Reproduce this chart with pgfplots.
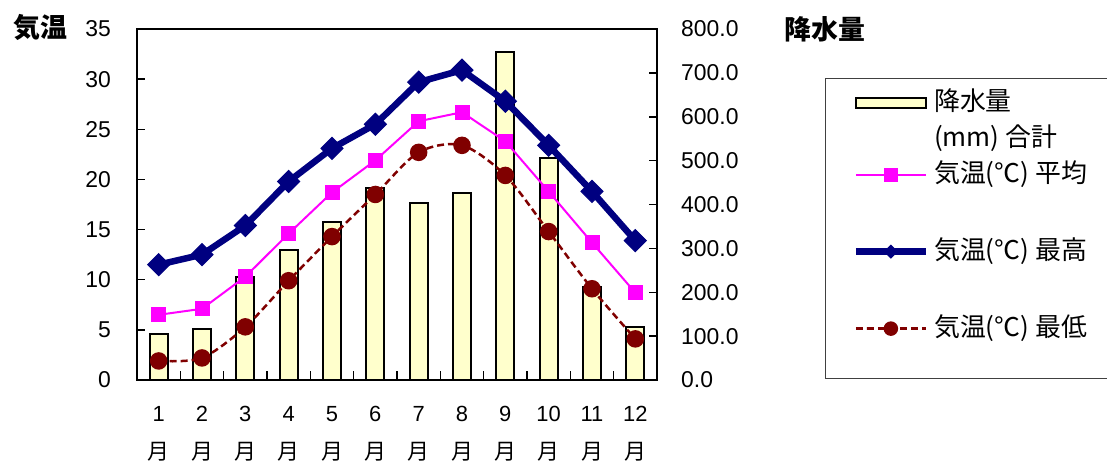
\documentclass[border=0pt]{standalone}
\usepackage{pgfplots}
\pgfplotsset{compat=1.18}
\usepackage{fontspec}
\setmainfont{Liberation Sans}
\newfontfamily\cjk{Noto Sans CJK JP}
\definecolor{barfill}{HTML}{FFFFCC}
\definecolor{navyc}{HTML}{000080}
\definecolor{magc}{HTML}{FF00FF}
\definecolor{redc}{HTML}{800000}
\newcommand{\M}{{\cjk 月}}
\pgfplotsset{
  lineimg/.style n args={3}{legend image code/.code={%
    \path[draw=none,fill=none] (0bp,-#1) -- (0bp,#2);
    \draw[mark repeat=2,mark phase=2,##1,mark size=#3] plot coordinates {(0bp,8bp) (35bp,8bp) (70bp,8bp)};}},
  barimg/.style={legend image code/.code={%
    \path[draw=none,fill=none] (0bp,-16bp) -- (0bp,32bp);
    \draw[##1] (0bp,3bp) rectangle (70bp,13bp);}},
  emptyimg/.style={legend image code/.code={\path[draw=none,fill=none] (0bp,-16bp) -- (0bp,20bp);}},
}
\begin{document}
\begin{tikzpicture}
\begin{axis}[
  at={(0,0)}, anchor=south west,
  width=520bp, height=351bp, scale only axis,
  xmin=0.5, xmax=12.5, ymin=0, ymax=800,
  axis x line=none, axis y line*=right,
  ytick={0,100,...,800},
  tick align=inside,
  major tick length=8bp,
  axis line style={black, line width=1.5bp},
  ytick style={black, line width=1.5bp},
  yticklabel style={anchor=west, inner sep=0pt, xshift=24bp, font=\fontsize{23}{27}\selectfont,
     /pgf/number format/fixed, /pgf/number format/fixed zerofill, /pgf/number format/precision=1,
     /pgf/number format/assume math mode=true},
]
\addplot[ybar, bar width=18bp, fill=barfill, draw=black, line width=2bp] coordinates {
(1,105) (2,117) (3,235) (4,297) (5,361) (6,437) (7,404) (8,427) (9,747) (10,507) (11,212) (12,120)};
\end{axis}
\begin{axis}[
  at={(0,0)}, anchor=south west,
  width=520bp, height=351bp, scale only axis,
  xmin=0.5, xmax=12.5, ymin=0, ymax=35,
  ytick={0,5,...,35}, ytick pos=left,
  xtick={1,...,12}, xtick pos=left,
  xticklabels={{1\\\M},{2\\\M},{3\\\M},{4\\\M},{5\\\M},{6\\\M},{7\\\M},{8\\\M},{9\\\M},{10\\\M},{11\\\M},{12\\\M}},
  major x tick style={draw=none},
  minor xtick={1.5,2.5,...,11.5},
  minor tick length=9bp,
  minor x tick style={black, line width=1.5bp},
  tick align=inside,
  major tick length=8bp,
  ytick style={black, line width=1.5bp},
  axis line style={black, line width=1.5bp},
  xticklabel style={align=center, anchor=north, inner sep=0pt, yshift=-26bp, font=\fontsize{22}{38}\selectfont},
  yticklabel style={anchor=east, inner sep=0pt, xshift=-26bp, font=\fontsize{23}{27}\selectfont},
  /pgf/number format/assume math mode=true,
  legend cell align=left,
  legend style={at={(1.3231,0.8604)}, anchor=north west, draw=black!75, line width=1.2bp, fill=white,
    inner xsep=27bp, inner ysep=0pt, row sep=0pt, column sep=5bp,
    font=\cjk\fontsize{26}{30}\selectfont,
    nodes={inner sep=0pt, text height=0pt, text depth=0pt, anchor=west}},
]
\addlegendimage{fill=barfill, draw=black, line width=2bp, barimg}
\addlegendentry{降水量}
\addlegendimage{emptyimg}
\addlegendentry{(mm) 合計}
\addplot[magc, line width=2bp, mark=square*, mark size=6.5bp, mark options={solid}, lineimg={57bp}{20bp}{6bp}] coordinates {
(1,6.5) (2,7.1) (3,10.3) (4,14.6) (5,18.7) (6,21.9) (7,25.8) (8,26.7) (9,23.8) (10,18.8) (11,13.7) (12,8.7)};
\addlegendentry{気温(℃) 平均}
\addplot[navyc, line width=6.5bp, mark=square*, mark size=7.8bp, mark options={solid, rotate=45, line width=1bp}, lineimg={57bp}{20bp}{4.5bp}] coordinates {
(1,11.5) (2,12.5) (3,15.4) (4,19.8) (5,23.1) (6,25.5) (7,29.7) (8,30.9) (9,27.8) (10,23.4) (11,18.8) (12,13.9)};
\addlegendentry{気温(℃) 最高}
\addplot[redc, line width=2.5bp, dash pattern=on 7bp off 4bp, smooth, tension=0.5, mark=*, mark size=7.5bp, mark options={solid}, lineimg={42bp}{20bp}{6bp}] coordinates {
(1,1.9) (2,2.2) (3,5.3) (4,9.9) (5,14.3) (6,18.5) (7,22.7) (8,23.4) (9,20.4) (10,14.8) (11,9.1) (12,4.1)};
\addlegendentry{気温(℃) 最低}
\end{axis}
\node[anchor=west, inner sep=0pt, font=\cjk\bfseries\fontsize{27}{30}\selectfont] at (-124bp,352.5bp) {気温};
\node[anchor=west, inner sep=0pt, font=\cjk\bfseries\fontsize{27}{30}\selectfont] at (647bp,351bp) {降水量};
\pgfresetboundingbox
\path[use as bounding box] (-137bp,-87bp) rectangle (970bp,380bp);
\end{tikzpicture}
\end{document}
